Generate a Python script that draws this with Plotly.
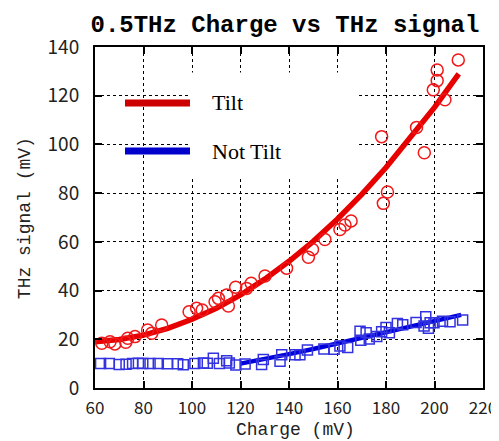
import plotly.graph_objects as go

# ---- data ----
tilt_x = [62.8, 66.2, 68.2, 72.7, 73.5, 76.5, 81.7, 83.4, 87.5, 98.8, 101.9, 104.2,
          109.5, 110.9, 114.3, 115.0, 118.0, 122.5, 124.4, 130.1, 139.0, 148.0, 149.7,
          154.8, 161.0, 163.1, 165.6, 178.2, 180.6, 178.9, 192.6, 195.8, 199.5, 201.1,
          201.1, 204.3, 209.8]
tilt_y = [18.4, 19.0, 18.1, 18.8, 20.4, 21.1, 23.8, 22.5, 25.9, 31.3, 32.7, 32.0,
          35.4, 36.8, 38.2, 33.7, 41.4, 40.9, 43.0, 46.0, 49.2, 53.7, 56.9,
          61.0, 65.1, 66.9, 68.6, 103.2, 80.5, 75.8, 107.0, 96.6, 122.4, 126.2,
          130.6, 118.3, 134.7]

tilt_fit_x = [60, 70, 80, 90, 100, 110, 120, 130, 140, 150, 160, 170, 180, 190, 200, 210]
tilt_fit_y = [19.0, 19.9, 21.7, 24.5, 28.2, 32.7, 38.2, 44.7, 52.0, 60.2, 69.4, 79.5,
              90.5, 102.5, 115.2, 129.0]

nottilt_x = [62.3, 65.9, 70.0, 72.8, 75.5, 77.9, 79.7, 82.7, 86.1, 89.8, 94.1, 96.4,
             101.2, 104.7, 106.3, 108.8, 111.3, 114.3, 115.4, 118.1, 121.9, 128.7, 129.4,
             136.3, 137.0, 142.5, 144.5, 147.6, 154.4, 158.6, 161.0, 164.2, 169.3, 169.6,
             171.8, 173.1, 176.2, 178.2, 180.0, 181.4, 184.7, 186.9, 192.4, 195.7, 196.4,
             197.5, 198.2, 199.8, 203.3, 206.4, 211.6]
nottilt_y = [10.1, 10.1, 9.6, 9.8, 10.1, 10.2, 10.1, 10.1, 10.1, 10.0, 10.0, 9.5,
             10.1, 10.3, 10.2, 12.2, 10.1, 11.2, 10.3, 9.4, 9.9, 9.6, 11.7,
             11.0, 13.6, 13.7, 13.6, 15.6, 16.0, 15.9, 17.2, 16.6, 23.3, 19.6,
             22.7, 20.1, 21.1, 23.1, 24.8, 22.7, 26.5, 26.0, 26.9, 25.5, 29.3,
             24.5, 26.8, 26.8, 27.4, 27.2, 27.9]

nottilt_fit_x = [120, 130, 140, 150, 160, 170, 180, 190, 200, 211]
nottilt_fit_y = [10.0, 11.8, 13.9, 16.0, 18.3, 20.6, 23.0, 25.0, 27.2, 30.0]

x_ticks = [60, 80, 100, 120, 140, 160, 180, 200, 220]
y_ticks = [0, 20, 40, 60, 80, 100, 120, 140]

title_text = "0.5THz Charge vs THz signal"
x_title = "Charge (mV)"
y_title = "THz signal (mV)"
legend_labels = ["Tilt", "Not Tilt"]

RED_LINE = "#e60000"
RED_MK = "#f01818"
BLUE_LINE = "#0000dd"
BLUE_MK = "#3232e0"

fig = go.Figure()
fig.add_trace(go.Scatter(x=tilt_fit_x, y=tilt_fit_y, mode="lines",
                         line=dict(color=RED_LINE, width=5.5), hoverinfo="skip"))
fig.add_trace(go.Scatter(x=nottilt_fit_x, y=nottilt_fit_y, mode="lines",
                         line=dict(color=BLUE_LINE, width=4.5), hoverinfo="skip"))
fig.add_trace(go.Scatter(x=tilt_x, y=tilt_y, mode="markers",
                         marker=dict(symbol="circle-open", size=12, color=RED_MK,
                                     line=dict(width=1.5))))
fig.add_trace(go.Scatter(x=nottilt_x, y=nottilt_y, mode="markers",
                         marker=dict(symbol="square-open", size=10, color=BLUE_MK,
                                     line=dict(width=1.5))))

axis_common = dict(showline=True, linecolor="black", linewidth=2, mirror="ticks",
                   ticks="inside", ticklen=7, tickwidth=1.5, tickcolor="black",
                   showgrid=True, gridcolor="black", gridwidth=1, griddash="dot",
                   zeroline=False, automargin=False)

fig.update_xaxes(range=[60, 220], tickvals=x_ticks, ticklabelstandoff=4,
                 tickfont=dict(family="Noto Sans CJK JP, sans-serif", size=17, color="#222"),
                 **axis_common)
fig.update_yaxes(range=[0, 140], tickvals=y_ticks, ticklabelstandoff=10,
                 tickfont=dict(family="Noto Sans CJK JP, sans-serif", size=19, color="#222"),
                 **axis_common)

# white box behind legend text (hides grid)
fig.add_shape(type="rect", xref="x", yref="y", x0=99.5, x1=168, y0=86, y1=129.5,
              fillcolor="white", line=dict(width=0), layer="between")

# legend line samples
leg_y = [0.836, 0.695]
leg_col = ["#cc0000", "#0000cc"]
for yy, cc, lab in zip(leg_y, leg_col, legend_labels):
    fig.add_shape(type="line", xref="paper", yref="paper", x0=0.0773, x1=0.2448,
                  y0=yy, y1=yy, line=dict(color=cc, width=7))
    fig.add_annotation(xref="paper", yref="paper", x=0.2964, y=yy, text=lab,
                       showarrow=False, xanchor="left", yanchor="middle",
                       font=dict(family="Liberation Serif, Times New Roman, serif",
                                 size=22, color="black"))

fig.add_annotation(xref="paper", yref="paper", x=0.518, y=-0.122, text=x_title,
                   showarrow=False, xanchor="center", yanchor="middle",
                   font=dict(family="Liberation Mono, monospace", size=18, color="#222"))
fig.add_annotation(xref="paper", yref="paper", x=-0.180, y=0.4985, text=y_title,
                   showarrow=False, xanchor="center", yanchor="middle", textangle=-90,
                   font=dict(family="Liberation Mono, monospace", size=18, color="#222"))

# the page adds an 8px body margin, so the figure is sized 8px smaller
fig.update_layout(
    width=491, height=433,
    margin=dict(l=87, r=16, t=39, b=53, autoexpand=False),
    paper_bgcolor="white", plot_bgcolor="white",
    showlegend=False,
    title=dict(text="<b>" + title_text + "</b>", x=0.564, xref="container", xanchor="center",
               y=0.965, yref="container", yanchor="middle",
               font=dict(family="Liberation Mono, DejaVu Sans Mono, monospace", size=24,
                         color="black")),
)

fig.write_html("out.html")
